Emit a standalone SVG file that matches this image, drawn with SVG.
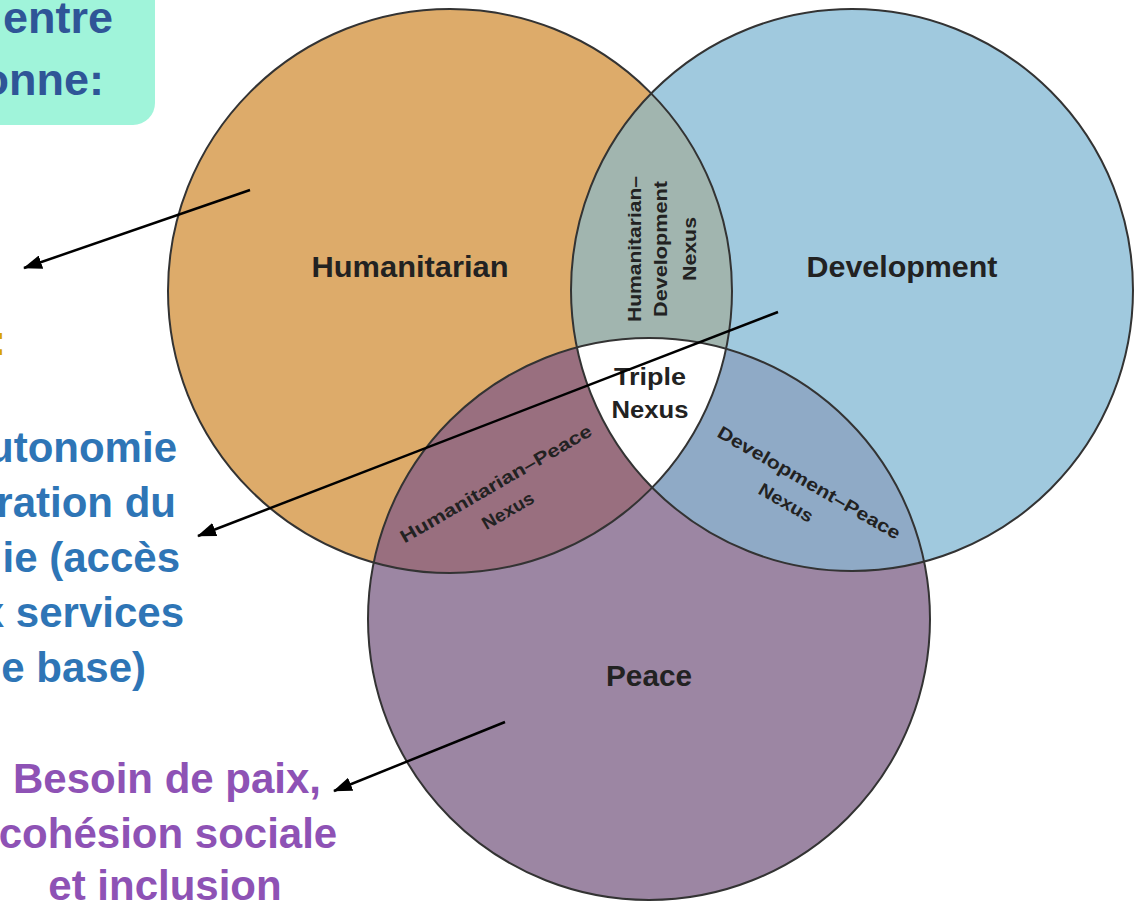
<svg xmlns="http://www.w3.org/2000/svg" width="1139" height="901" viewBox="0 0 1139 901">
<style>
.lbl{font-family:"Liberation Sans",Arial,sans-serif;font-weight:bold;fill:#222}
.side{font-family:"Liberation Sans",Arial,sans-serif;font-weight:bold;font-size:42px}
.big{font-size:45px}
.outline{fill:none;stroke:#333;stroke-width:2}
.arrow{stroke:#000;stroke-width:2.5;fill:none;marker-end:url(#ah)}
</style>
<defs>
<marker id="ah" markerUnits="userSpaceOnUse" markerWidth="20" markerHeight="14" refX="18" refY="7" orient="auto">
<path d="M0,0 L19,7 L0,14 z" fill="#000"/>
</marker>
<clipPath id="cH"><circle cx="450" cy="291" r="282"/></clipPath>
<clipPath id="cD"><circle cx="852" cy="290" r="281"/></clipPath>
<clipPath id="cP"><circle cx="649" cy="619" r="281"/></clipPath>
</defs>
<rect width="1139" height="901" fill="#fff"/>

<g id="box-top">
<rect x="-40" y="-40" width="195" height="165" rx="22" fill="#A0F4DA"/>
<text class="side big" x="113" y="33" text-anchor="end" fill="#2F5597">entre</text>
<text class="side big" x="104" y="95" text-anchor="end" fill="#2F5597">onne:</text>
</g>

<g id="text-orange">
<text class="side" x="6" y="355" text-anchor="end" fill="#D9A400">:</text>
</g>

<g id="text-blue" fill="#2E75B6">
<text class="side" x="177" y="462" text-anchor="end">utonomie</text>
<text class="side" x="176" y="517" text-anchor="end">ration du</text>
<text class="side" x="180" y="572" text-anchor="end">ie (accès</text>
<text class="side" x="184" y="627" text-anchor="end">x services</text>
<text class="side" x="146" y="682" text-anchor="end">e base)</text>
</g>

<g id="text-purple" fill="#8E52B5">
<text class="side" x="167" y="793" text-anchor="middle">Besoin de paix,</text>
<text class="side" x="168" y="848" text-anchor="middle">cohésion sociale</text>
<text class="side" x="165" y="900" text-anchor="middle">et inclusion</text>
</g>

<g id="humanitarian">
<circle cx="450" cy="291" r="282" fill="#DDAB6A"/>
</g>
<g id="development">
<circle cx="852" cy="290" r="281" fill="#A0C9DE"/>
</g>
<g id="peace">
<circle cx="649" cy="619" r="281" fill="#9C86A3"/>
</g>
<g id="hd-nexus">
<g clip-path="url(#cH)"><circle cx="852" cy="290" r="281" fill="#A1B5AF"/></g>
</g>
<g id="hp-nexus">
<g clip-path="url(#cH)"><circle cx="649" cy="619" r="281" fill="#996F7F"/></g>
</g>
<g id="dp-nexus">
<g clip-path="url(#cD)"><circle cx="649" cy="619" r="281" fill="#8FAAC6"/></g>
</g>
<g id="triple-nexus">
<g clip-path="url(#cH)"><g clip-path="url(#cD)"><circle cx="649" cy="619" r="281" fill="#fff"/></g></g>
</g>
<g id="outlines">
<circle class="outline" cx="450" cy="291" r="282"/>
<circle class="outline" cx="852" cy="290" r="281"/>
<circle class="outline" cx="649" cy="619" r="281"/>
</g>

<g id="labels">
<text class="lbl" x="410" y="277" font-size="29" text-anchor="middle" textLength="197" lengthAdjust="spacingAndGlyphs">Humanitarian</text>
<text class="lbl" x="902" y="277" font-size="29" text-anchor="middle" textLength="191" lengthAdjust="spacingAndGlyphs">Development</text>
<text class="lbl" x="649" y="686" font-size="29" text-anchor="middle" textLength="86" lengthAdjust="spacingAndGlyphs">Peace</text>
<text class="lbl" x="650" y="385" font-size="24" text-anchor="middle" textLength="72" lengthAdjust="spacingAndGlyphs">Triple</text>
<text class="lbl" x="650" y="418" font-size="24" text-anchor="middle" textLength="77" lengthAdjust="spacingAndGlyphs">Nexus</text>
<g transform="translate(0,249) rotate(-90)">
<text class="lbl" x="0" y="641" font-size="19" text-anchor="middle" textLength="146" lengthAdjust="spacingAndGlyphs">Humanitarian–</text>
<text class="lbl" x="0" y="667" font-size="19" text-anchor="middle" textLength="136" lengthAdjust="spacingAndGlyphs">Development</text>
<text class="lbl" x="0" y="696" font-size="19" text-anchor="middle" textLength="64" lengthAdjust="spacingAndGlyphs">Nexus</text>
</g>
<g transform="translate(499,489) rotate(-30)">
<text class="lbl" x="0" y="0" font-size="18" text-anchor="middle" textLength="218" lengthAdjust="spacingAndGlyphs">Humanitarian–Peace</text>
</g>
<g transform="translate(511,516) rotate(-30)">
<text class="lbl" x="0" y="0" font-size="18" text-anchor="middle" textLength="57" lengthAdjust="spacingAndGlyphs">Nexus</text>
</g>
<g transform="translate(806,488) rotate(30)">
<text class="lbl" x="0" y="0" font-size="18" text-anchor="middle" textLength="208" lengthAdjust="spacingAndGlyphs">Development–Peace</text>
</g>
<g transform="translate(783,508) rotate(30)">
<text class="lbl" x="0" y="0" font-size="18" text-anchor="middle" textLength="60" lengthAdjust="spacingAndGlyphs">Nexus</text>
</g>
</g>

<g id="connectors">
<line class="arrow" x1="250" y1="190" x2="24" y2="268"/>
<line class="arrow" x1="778" y1="312" x2="198" y2="536"/>
<line class="arrow" x1="505" y1="722" x2="334" y2="791"/>
</g>
</svg>
